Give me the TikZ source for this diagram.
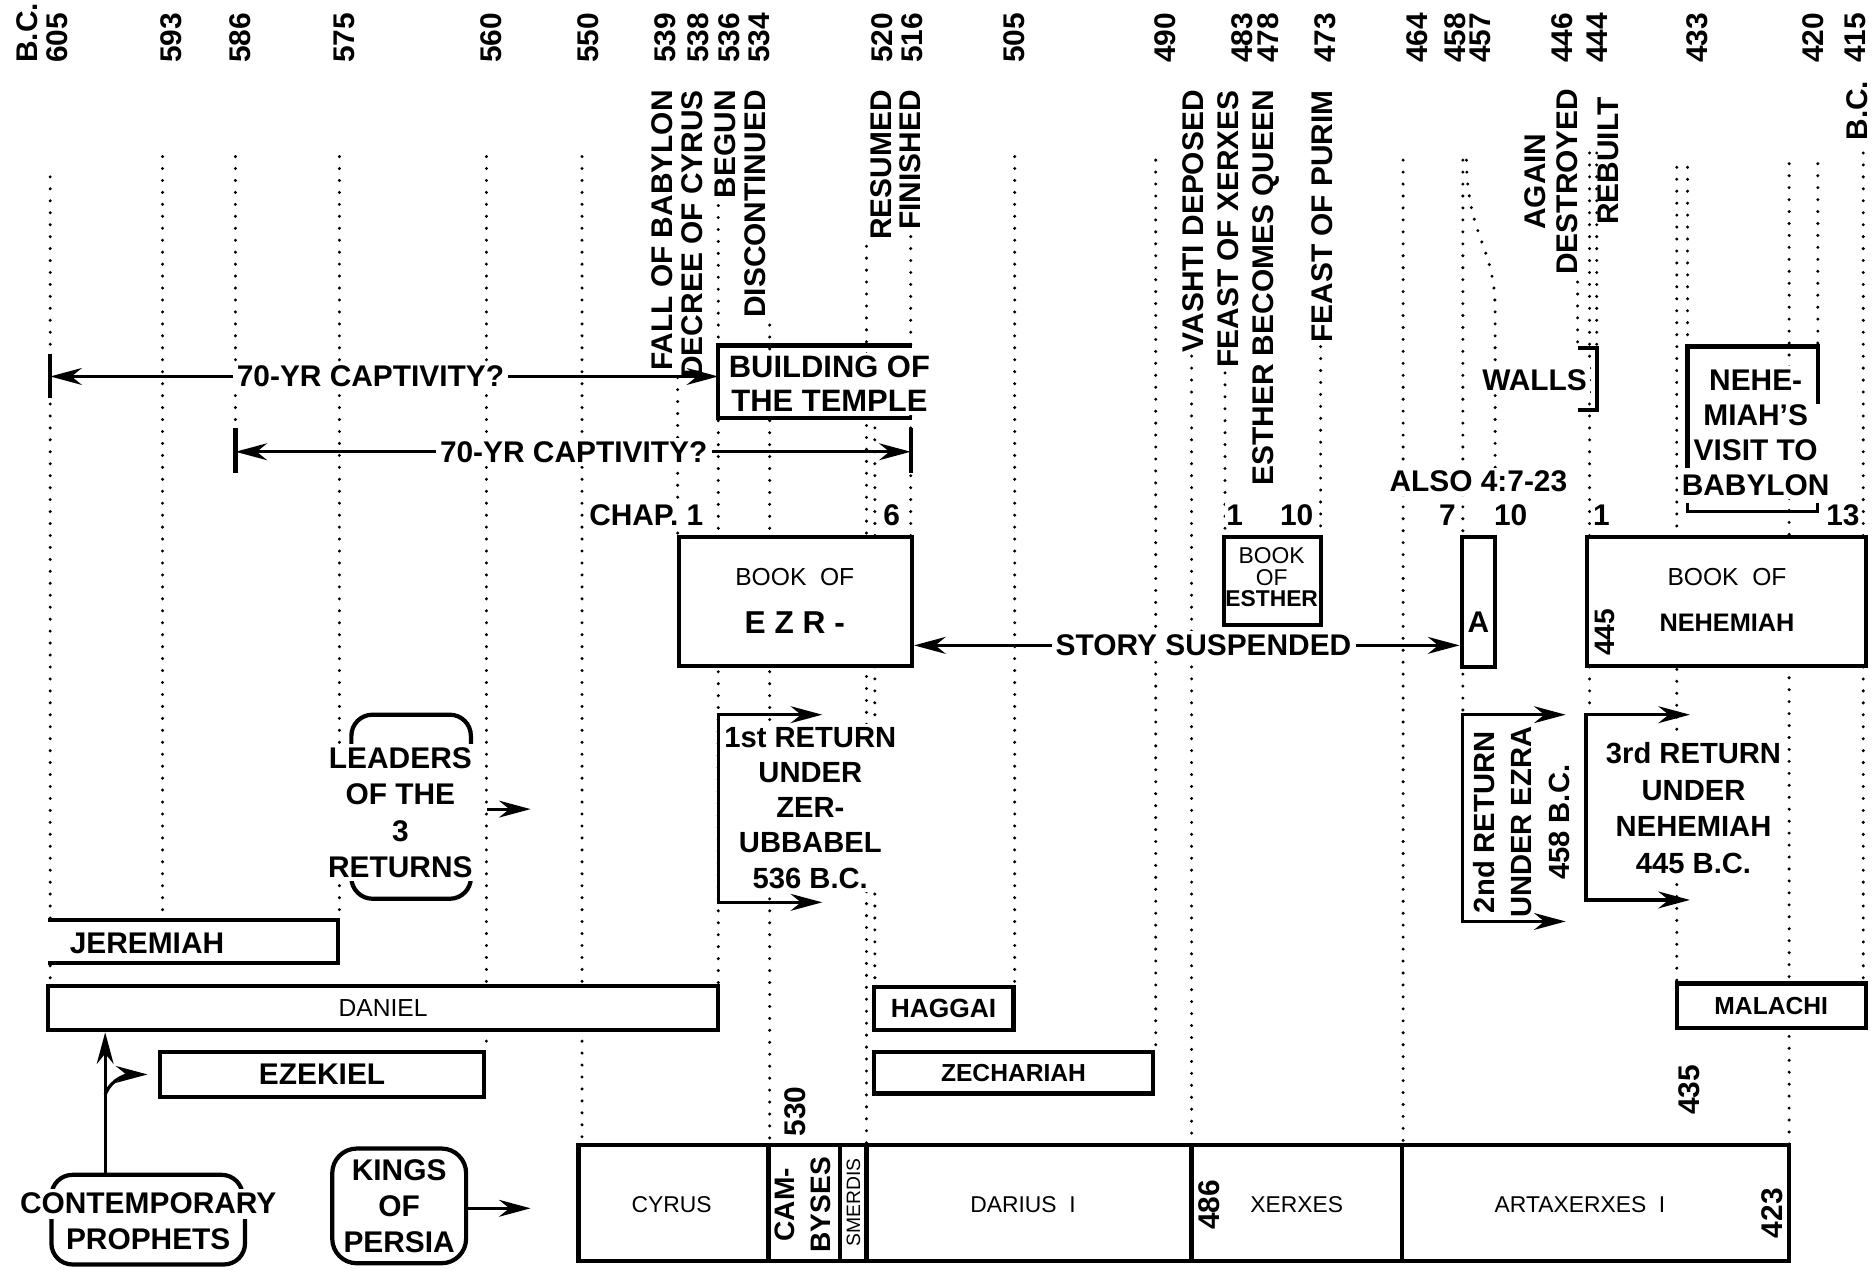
\documentclass[tikz,border=0pt]{standalone}
\usepackage{fontspec}
\setmainfont{Liberation Sans}
\usetikzlibrary{arrows.meta, positioning, calc, fit}
\tikzset{
  chart/.style={
    x=0.01195cm, y=-0.01195cm, % one unit = one pixel of the scan
    >={Stealth[length=9pt, width=4.8pt]}, % filled arrow heads
    every node/.style={font=\bfseries\fontsize{8.5}{10}\selectfont},
  },
  guide/.style={line width=0.95pt, dash pattern=on 0pt off 3.4pt, line cap=round}, % dotted year lines
  yearlab/.style={rotate=90, anchor=west, inner sep=0pt},
  eventlab/.style={rotate=90, anchor=east, inner sep=0pt},
  lab/.style={fill=white, inner sep=1pt, align=center},
  box/.style={draw, line width=1.2pt, fill=white, inner sep=0pt},
  edge/.style={line width=1.2pt},
  flow/.style={line width=0.9pt},
  booklab/.style={font=\fontsize{7}{8}\selectfont},
  reignlab/.style={font=\fontsize{6.5}{7}\selectfont},
}

\begin{document}
\begin{tikzpicture}[chart]
  \useasboundingbox (0,0) rectangle (1568,1062);

  % dotted lines down from the years
  \foreach \x/\ya/\yb in {42/148/826, 136/131/770, 197/131/358, 284/131/770, 407/131/880,
      487/131/958, 567/316/449, 601/172/826, 644/272/958, 725/206/958, 732/358/826,
      762/198/449, 849/131/826, 967/134/880, 997/298/958, 1025/312/449, 1105/290/449,
      1174/134/958, 1224/134/598, 1320/236/291, 1330/128/598, 1336/128/291, 1403/140/823,
      1412/140/290, 1497/137/958, 1521/137/290, 1559/128/823}
    \draw[guide] (\x,\ya) -- (\x,\yb);
  \draw[guide] (1227,134) .. controls (1228,200) and (1251,205) .. (1251,260) -- (1251,395);

  % years along the top
  \node[yearlab] (bc1) at (23,53) {B.C.};
  \foreach \x/\yr in {48/605, 143/593, 201/586, 288/575, 411/560, 492/550, 557/539, 584/538,
      610/536, 635/534, 738/520, 763/516, 849/505, 975/490, 1039/483, 1061/478, 1109/473,
      1186/464, 1218/458, 1239/457, 1307/446, 1336/444, 1420/433, 1517/420, 1552/415}
    \node[yearlab] (y\yr) at (\x,53) {\yr};
  \node[eventlab] (bc2) at (1554,67) {B.C.};

  % events
  \foreach \x/\ev in {554/FALL OF BABYLON, 579/DECREE OF CYRUS, 607/BEGUN, 632/DISCONTINUED,
      737/RESUMED, 762/FINISHED, 998/VASHTI DEPOSED, 1028/FEAST OF XERXES,
      1059/ESTHER BECOMES QUEEN, 1106/FEAST OF PURIM}
    \node[eventlab] (e\x) at (\x,75) {\ev};
  \node[eventlab] (rebuilt) at (1346,81) {REBUILT};
  \node[rotate=90, align=center, inner sep=0pt, font=\bfseries\fontsize{8.5}{8.9}\selectfont] (again) at (1298,152) {AGAIN\\DESTROYED};

  % temple and the two captivities
  \node[lab, font=\bfseries\fontsize{8.8}{9.5}\selectfont] (temple) at (694,321) {BUILDING OF\\THE TEMPLE};
  \draw[edge] (763,289) -- (601,289) -- (601,350) -- (763,350);
  \coordinate (c605) at (42,315);
  \coordinate (c536) at (601,315);
  \coordinate (c586) at (197,378);
  \coordinate (c516) at (762,378);
  \draw[edge] (c605) ++(0,-19) -- ++(0,37);
  \draw[edge] (c586) ++(0,-20) -- ++(0,38);
  \draw[edge] (c516) ++(0,-20) -- ++(0,38);
  \node[lab] (capt1) at (310,315) {70-YR CAPTIVITY?};
  \node[lab] (capt2) at (480,378) {70-YR CAPTIVITY?};
  \draw[flow,->] (capt1) -- (c605);
  \draw[flow,->] (capt1) -- (c536);
  \draw[flow,->] (capt2) -- (c586);
  \draw[flow,->] (capt2) -- (c516);

  % walls and Nehemiah's visit
  \node[lab] (walls) at (1284,318) {WALLS};
  \draw[edge] (1320,291) -- (1336,291) -- (1336,343) -- (1320,343);
  \node[lab, font=\bfseries\fontsize{8.5}{10}\selectfont] (visit) at (1469,362) {NEHE-\\MIAH'S\\VISIT TO\\BABYLON};
  \draw[edge] (1412,392) -- (1412,290) -- (1521,290) -- (1521,338);
  \draw[flow] (1412,421) -- (1412,428) -- (1521,428) -- (1521,421);

  % chapters
  \node[lab, anchor=east] (chap1) at (592,431) {CHAP. 1};
  \node[lab, inner sep=0.5pt] (chap6) at (746,431) {6};
  \node[lab, inner sep=0.5pt] (est1) at (1033,431) {1};
  \node[lab, inner sep=0.5pt] (est10) at (1085,431) {10};
  \node[lab] (also) at (1237,403) {ALSO 4:7-23};
  \node[lab, inner sep=0.5pt] (ezr7) at (1211,431) {7};
  \node[lab, inner sep=0.5pt] (ezr10) at (1264,431) {10};
  \node[lab, inner sep=0.5pt] (neh1) at (1340,431) {1};
  \node[lab, inner sep=0.5pt] (neh13) at (1542,431) {13};

  % books
  \node[box, fit={(568,449) (763,557)}] (ezra) {};
  \node[booklab] (ezra1) at (665,483) {BOOK\ \ OF};
  \node[font=\bfseries\fontsize{9}{10}\selectfont] (ezra2) at (665,521) {E Z R -};
  \node[box, fit={(1024,449) (1105,523)}] (esther) {};
  \node[align=center, inner sep=0pt, font=\fontsize{6.5}{6.2}\selectfont] (esther1) at (1064,483) {BOOK\\OF\\\textbf{ESTHER}};
  \node[box, fit={(1223,449) (1251,558)}] (ezraA) {};
  \node (ezraA1) at (1237,521) {A};
  \node[box, fit={(1328,449) (1561,557)}] (nehemiah) {};
  \node[booklab] (neh1a) at (1445,483) {BOOK\ \ OF};
  \node[font=\bfseries\fontsize{7.2}{8}\selectfont] (neh1b) at (1445,521) {NEHEMIAH};
  \node[rotate=90, inner sep=0pt, font=\bfseries\fontsize{8}{9}\selectfont] (neh445) at (1343,529) {445};

  \node[lab] (story) at (1007,540) {STORY SUSPENDED};
  \draw[flow,->] (story) -- (ezra.east |- story);
  \draw[flow,->] (story) -- (ezraA.west |- story);

  % the three returns
  \draw[edge, rounded corners=6pt] (294,624) -- (294,598) -- (394,598) -- (394,624);
  \draw[edge, rounded corners=6pt] (294,736) -- (294,752) -- (394,752) -- (394,736);
  \node[lab, font=\bfseries\fontsize{8.5}{10.3}\selectfont] (leaders) at (335,680) {LEADERS\\OF THE\\3\\RETURNS};
  \coordinate (leadtip) at (444,677);
  \draw[flow,->] ([xshift=3pt]leaders.east |- leadtip) -- (leadtip);

  \node[lab, font=\bfseries\fontsize{8.3}{10}\selectfont] (ret1) at (678,676) {1st RETURN\\UNDER\\ZER-\\UBBABEL\\536 B.C.};
  \coordinate (r1top) at (688,598);
  \coordinate (r1bot) at (688,755);
  \draw[flow,<->] (r1top) -- (601,598) -- (601,755) -- (r1bot);

  \node[lab, rotate=90, font=\bfseries\fontsize{8.3}{10.7}\selectfont] (ret2) at (1273,688) {2nd RETURN\\UNDER EZRA\\458 B.C.};
  \coordinate (r2top) at (1310,598);
  \coordinate (r2bot) at (1310,771);
  \draw[flow,<->] (r2top) -- (1224,598) -- (1224,771) -- (r2bot);

  \node[lab, font=\bfseries\fontsize{8.3}{10.4}\selectfont] (ret3) at (1417,676) {3rd RETURN\\UNDER\\NEHEMIAH\\445 B.C.};
  \coordinate (r3top) at (1414,598);
  \coordinate (r3bot) at (1414,753);
  \draw[flow,<->] (r3top) -- (1327,598) -- (1327,753) -- (r3bot);

  % prophets
  \draw[edge, fill=white] (40,770) -- (283,770) -- (283,806) -- (40,806);
  \node (jeremiah) at (123,789) {JEREMIAH};
  \node[box, fit={(40,825) (601,862)}] (daniel) {};
  \node[font=\fontsize{7}{8}\selectfont] (daniel1) at (daniel.center) {DANIEL};
  \node[box, fit={(134,880) (405,918)}] (ezekiel) {};
  \node (ezekiel1) at (ezekiel.center) {EZEKIEL};
  \node[box, fit={(731,826) (848,862)}] (haggai) {};
  \node[font=\bfseries\fontsize{7.5}{8}\selectfont] (haggai1) at (haggai.center) {HAGGAI};
  \node[box, fit={(731,880) (965,915)}] (zechariah) {};
  \node[font=\bfseries\fontsize{7}{8}\selectfont] (zechariah1) at (zechariah.center) {ZECHARIAH};
  \node[box, fit={(1403,823) (1561,860)}] (malachi) {};
  \node[font=\bfseries\fontsize{7}{8}\selectfont] (malachi1) at (malachi.center) {MALACHI};

  \draw[edge, rounded corners=6pt] (43,996) -- (43,983) -- (203,983) -- (203,996);
  \draw[edge, rounded corners=6pt] (43,1020) -- (43,1058) -- (205,1058) -- (205,1020);
  \node[lab] (contemp) at (124,1007) {CONTEMPORARY};
  \node[lab, fill=none] (prophets) at (124,1037) {PROPHETS};
  \coordinate (cpfoot) at (88,983);
  \coordinate (cpfork) at (88,916);
  \draw[flow,->] (cpfoot) -- (cpfoot |- daniel.south);
  \draw[flow,->] (cpfork) to[out=70, in=180] ([xshift=-3pt]ezekiel.west);

  % kings of Persia
  \node[box, rounded corners=7pt, fit={(278,961) (390,1057)}] (kings) {};
  \node[align=center, font=\bfseries\fontsize{8.5}{10.2}\selectfont] (kings1) at (334,1009) {KINGS\\OF\\PERSIA};
  \coordinate (kingtip) at (444,1011);
  \draw[flow,->] (kings.east |- kingtip) -- (kingtip);

  \node[box, fit={(484,958) (643,1055)}] (cyrus) {};
  \node[box, fit={(643,958) (703,1055)}] (cambyses) {};
  \node[box, fit={(703,958) (725,1055)}] (smerdis) {};
  \node[box, fit={(725,958) (997,1055)}] (darius) {};
  \node[box, fit={(997,958) (1173,1055)}] (xerxes) {};
  \node[box, fit={(1173,958) (1497,1055)}] (artax) {};
  \node[reignlab] (cyrus1) at (562,1008) {CYRUS};
  \node[rotate=90, align=center, inner sep=0pt, font=\bfseries\fontsize{8}{10.2}\selectfont] (cambyses1) at (672,1008) {CAM-\\BYSES};
  \node[rotate=90, inner sep=0pt, font=\fontsize{5.5}{6}\selectfont] (smerdis1) at (714,1006) {SMERDIS};
  \node[reignlab] (darius1) at (856,1008) {DARIUS\ \ I};
  \node[reignlab] (xerxes1) at (1085,1008) {XERXES};
  \node[reignlab] (artax1) at (1322,1008) {ARTAXERXES\ \ I};
  \node[rotate=90, inner sep=0pt] (y486) at (1012,1008) {486};
  \node[rotate=90, inner sep=0pt] (y423) at (1483,1015) {423};
  \node[lab, rotate=90, inner sep=0.5pt] (y530) at (665,930) {530};
  \node[lab, rotate=90, inner sep=0.5pt] (y435) at (1413,912) {435};
\end{tikzpicture}
\end{document}
